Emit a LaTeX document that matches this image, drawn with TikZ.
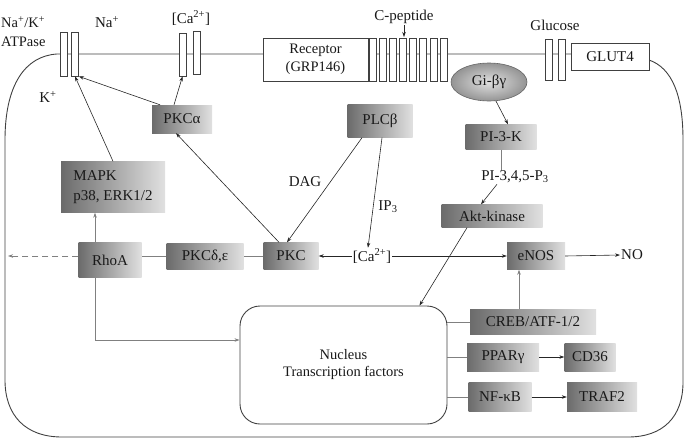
\documentclass[tikz,border=0pt]{standalone}
\usepackage{fontspec}
\setmainfont{Liberation Serif}
\usetikzlibrary{arrows.meta,shapes.geometric}
\begin{document}
\begin{tikzpicture}[x=1pt,y=-1pt,
  every node/.style={font=\fontsize{15}{17}\selectfont, text=black!90},
  gbox/.style={rectangle, inner sep=1pt, left color=black!58, middle color=black!20, right color=black!12},
  wbox/.style={rectangle, draw=black!75, fill=white, line width=0.8pt, inner sep=1pt},
  chan/.style={rectangle, draw=black!75, fill=white, line width=0.8pt, minimum width=7pt, minimum height=43pt, inner sep=0pt},
  lbl/.style={inner sep=1pt},
  arr/.style={-{Stealth[length=5pt,width=3.5pt]}, line width=0.6pt, draw=black!85},
  gline/.style={line width=0.7pt, draw=black!50},
  garr/.style={-{Stealth[length=5pt,width=3.5pt]}, line width=0.7pt, draw=black!50},
]
\useasboundingbox (0,0) rectangle (685,442);

% membrane
\draw[line width=0.9pt, draw=black!75]
  (571,54) -- (57,54) .. controls (25,56) and (5,85) .. (5,140)
  -- (5,380) .. controls (5,415) and (25,437) .. (62,437)
  -- (628,437) .. controls (663,437) and (683,417) .. (683,382)
  -- (683,140) .. controls (683,95) and (672,68) .. (649,60);

% channels
\node[chan, minimum height=44pt] (nk1) at (63.5,54) {};
\node[chan, minimum height=44pt] (nk2) at (75,54) {};
\node[chan] (ca1) at (182.5,54.5) {};
\node[chan] (ca2) at (196.5,53) {};
\node[wbox, minimum width=105pt, minimum height=43pt, align=center, font=\fontsize{14.5}{18}\selectfont] (rec) at (315.5,59.5) {Receptor\\(GRP146)};
\foreach \i in {0,...,7} {
  \node[chan] (r\i) at (372.5+\i*10.15,59.5) {};
}
\node[chan, minimum height=41pt] (gl1) at (549,59.5) {};
\node[chan, minimum height=41pt] (gl2) at (561.5,59.5) {};
\node[wbox, minimum width=78pt, minimum height=27pt] (glut) at (610,56.5) {GLUT4};

% top labels
\node[lbl, anchor=west, align=left, font=\fontsize{14.5}{19}\selectfont] (nklbl) at (0,32) {Na\textsuperscript{+}/K\textsuperscript{+}\\ATPase};
\node[lbl] (nalbl) at (107,22) {Na\textsuperscript{+}};
\node[lbl] (calbl) at (191,18) {[Ca\textsuperscript{2+}]};
\node[lbl] (klbl) at (48,97) {K\textsuperscript{+}};
\node[lbl] (cpep) at (404,17) {C-peptide};
\coordinate (cpepend) at (404,37);
\node[lbl] (gluc) at (555,25) {Glucose};

% signalling nodes
\node[ellipse, draw=black!60, line width=0.6pt, inner color=black!12, outer color=black!42, minimum width=76pt, minimum height=38pt] (gi) at (489,82) {Gi-βγ};
\node[gbox, minimum width=60pt, minimum height=28pt] (pkca) at (182,119) {PKCα};
\node[gbox, minimum width=65pt, minimum height=33pt] (plc) at (380,121) {PLCβ};
\node[gbox, minimum width=104pt, minimum height=51pt, align=left, font=\fontsize{15}{20}\selectfont] (mapk) at (113,187) {MAPK\\p38, ERK1/2};
\node[gbox, minimum width=55pt, minimum height=27pt] (pkc) at (291,256) {PKC};
\node[gbox, minimum width=77pt, minimum height=26pt] (pkcde) at (205,256) {PKCδ,ε};
\node[gbox, minimum width=63pt, minimum height=35pt] (rhoa) at (110,260) {RhoA};
\node[gbox, minimum width=71pt, minimum height=25pt] (pi3k) at (501,137) {PI-3-K};
\node[gbox, minimum width=101pt, minimum height=23pt] (akt) at (492,216) {Akt-kinase};
\node[gbox, minimum width=58pt, minimum height=27pt] (enos) at (536,256) {eNOS};
\node[gbox, minimum width=126pt, minimum height=25pt] (creb) at (533,322) {CREB/ATF-1/2};
\node[gbox, minimum width=72pt, minimum height=28pt] (ppar) at (503,357) {PPARγ};
\node[gbox, minimum width=51pt, minimum height=28pt] (cd36) at (590,357) {CD36};
\node[gbox, minimum width=63pt, minimum height=29pt] (nfkb) at (500,397) {NF-κB};
\node[gbox, minimum width=70pt, minimum height=29pt] (traf) at (602,397) {TRAF2};
\node[rectangle, rounded corners=20pt, draw=black!75, line width=0.9pt, minimum width=207pt, minimum height=118pt, align=center, font=\fontsize{14.5}{17}\selectfont] (nuc) at (343.5,365) {Nucleus\\Transcription factors};

% text labels
\node[lbl] (ca) at (372,256) {[Ca\textsuperscript{2+}]};
\node[lbl] (pip) at (515,177) {PI-3,4,5-P\textsubscript{3}};
\node[lbl] (dag) at (305,182) {DAG};
\node[lbl] (ip3) at (388,207) {IP\textsubscript{3}};
\node[lbl, anchor=west] (no) at (620,255) {NO};
\coordinate (dashend) at (8,256);

% connectors
\draw[arr] (cpep.south) -- (cpepend);
\draw[arr] (mapk.north) -- (nk2.south);
\draw[arr] ([xshift=-22pt]pkca.north) -- (nk2.south east);
\draw[arr] ([xshift=-8pt]pkca.north) -- (ca1.south);
\draw[arr] ([xshift=-12pt]pkc.north) -- ([xshift=-6pt]pkca.south);
\draw[arr] ([xshift=-18pt]plc.south) -- ([xshift=-4pt]pkc.north);
\draw[arr] ([xshift=2pt]plc.south) -- ([xshift=-4pt]ca.north);
\draw[arr] (ca.west) -- (pkc.east);
\draw[arr] (ca.east) -- (enos.west);
\draw[gline] (pkc.west) -- (pkcde.east);
\draw[gline] (pkcde.west) -- (pkcde.west -| rhoa.east);
\draw[garr, dash pattern=on 6pt off 4pt] (rhoa.west |- pkcde.west) -- (dashend);
\draw[garr] ([xshift=-15pt]rhoa.north) -- ([xshift=-15pt]rhoa.north |- mapk.south);
\draw[garr] ([xshift=-15pt]rhoa.south) |- ([yshift=25pt]nuc.west);
\draw[arr] (gi.-70) -- ([xshift=7pt]pi3k.north);
\draw[gline] (pi3k.south) -- (pi3k.south |- pip.north);
\draw[arr] ([xshift=-18pt]pip.south) -- ([xshift=-11pt]akt.north);
\draw[arr] ([xshift=-25pt]akt.south) -- ([xshift=76pt]nuc.north);
\draw[arr] (enos.east) -- (no.west);
\draw[gline] (creb.west) -- (creb.west -| nuc.east);
\draw[gline] (ppar.west) -- (ppar.west -| nuc.east);
\draw[gline] (nfkb.west) -- (nfkb.west -| nuc.east);
\draw[garr] ([xshift=-14pt]creb.north) -- ([xshift=-14pt]creb.north |- enos.south);
\draw[arr] (ppar.east) -- (cd36.west);
\draw[arr] (nfkb.east) -- (traf.west);
\end{tikzpicture}
\end{document}
